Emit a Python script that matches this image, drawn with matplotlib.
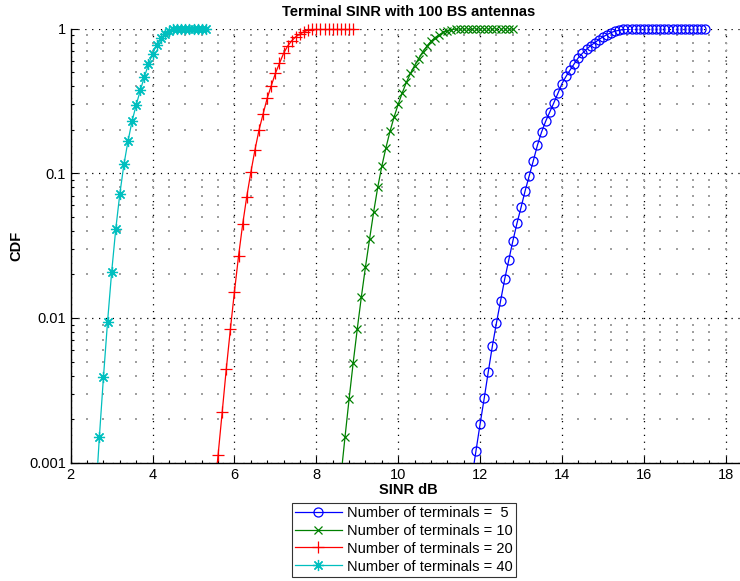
import numpy as np
import matplotlib
matplotlib.use("Agg")
import matplotlib.pyplot as plt
from matplotlib.lines import Line2D
from matplotlib.ticker import FixedLocator, NullFormatter

plt.rcParams['font.family'] = ['Liberation Sans', 'DejaVu Sans']

# --- data (SINR dB vs CDF) ---
x_k5 = [11.8, 11.9, 12.0, 12.1, 12.2, 12.3, 12.4, 12.5, 12.6, 12.7, 12.8, 12.9,
        13.0, 13.1, 13.2, 13.3, 13.4, 13.5, 13.6, 13.7, 13.8, 13.9, 14.0, 14.1,
        14.2, 14.3, 14.4, 14.5, 14.6, 14.7, 14.8, 14.9, 15.0, 15.1, 15.2, 15.3,
        15.4, 15.5, 15.6, 15.7, 15.8, 15.9, 16.0, 16.1, 16.2, 16.3, 16.4, 16.5,
        16.6, 16.7, 16.8, 16.9, 17.0, 17.1, 17.2, 17.3, 17.4, 17.5]
cdf_k5 = [0.00079, 0.00121, 0.00185, 0.00278, 0.00425, 0.0064, 0.00927, 0.0131,
          0.0185, 0.0251, 0.034, 0.045, 0.058, 0.0756, 0.096, 0.122, 0.156, 0.192,
          0.228, 0.264, 0.306, 0.356, 0.416, 0.467, 0.517, 0.571, 0.628, 0.674,
          0.719, 0.761, 0.798, 0.838, 0.875, 0.907, 0.938, 0.959, 0.973, 0.985,
          0.991, 0.995, 0.997, 0.998, 0.999, 0.9995, 1.0, 1.0, 1.0, 1.0,
          1.0, 1.0, 1.0, 1.0, 1.0, 1.0, 1.0, 1.0, 1.0, 1.0]

x_k10 = [8.6, 8.7, 8.8, 8.9, 9.0, 9.1, 9.2, 9.3, 9.4, 9.5, 9.6, 9.7, 9.8, 9.9,
         10.0, 10.1, 10.2, 10.3, 10.4, 10.5, 10.6, 10.7, 10.8, 10.9, 11.0, 11.1,
         11.2, 11.3, 11.4, 11.5, 11.6, 11.7, 11.8, 11.9, 12.0, 12.1, 12.2, 12.3,
         12.4, 12.5, 12.6, 12.7, 12.8]
cdf_k10 = [0.0008, 0.0015, 0.00275, 0.0049, 0.0084, 0.014, 0.0225, 0.035, 0.054,
           0.08, 0.112, 0.15, 0.195, 0.245, 0.30, 0.36, 0.425, 0.49, 0.555, 0.62,
           0.69, 0.755, 0.815, 0.865, 0.905, 0.94, 0.965, 0.981, 0.991, 0.996,
           0.998, 0.999, 1.0, 1.0, 1.0, 1.0, 1.0, 1.0, 1.0, 1.0, 1.0, 1.0, 1.0]

x_k20 = [5.5, 5.6, 5.7, 5.8, 5.9, 6.0, 6.1, 6.2, 6.3, 6.4, 6.5, 6.6, 6.7, 6.8,
         6.9, 7.0, 7.1, 7.2, 7.3, 7.4, 7.5, 7.6, 7.7, 7.8, 7.9, 8.0, 8.1, 8.2,
         8.3, 8.4, 8.5, 8.6, 8.7, 8.8, 8.9]
cdf_k20 = [0.00057, 0.00113, 0.00223, 0.00443, 0.00834, 0.0152, 0.0268, 0.0443,
           0.0688, 0.1014, 0.1446, 0.199, 0.257, 0.33, 0.403, 0.49, 0.575, 0.674,
           0.757, 0.824, 0.878, 0.916, 0.95, 0.976, 0.992, 0.997, 0.999, 1.0,
           1.0, 1.0, 1.0, 1.0, 1.0, 1.0, 1.0]

x_k40 = [2.6, 2.7, 2.8, 2.9, 3.0, 3.1, 3.2, 3.3, 3.4, 3.5, 3.6, 3.7, 3.8, 3.9,
         4.0, 4.1, 4.2, 4.3, 4.4, 4.5, 4.6, 4.7, 4.8, 4.9, 5.0, 5.1, 5.2, 5.3]
cdf_k40 = [0.00052, 0.0015, 0.0039, 0.0094, 0.0207, 0.041, 0.072, 0.115, 0.167,
           0.23, 0.296, 0.374, 0.464, 0.566, 0.669, 0.773, 0.855, 0.92, 0.96,
           0.985, 0.995, 0.998, 0.999, 1.0, 1.0, 1.0, 1.0, 1.0]

labels = ["Number of terminals =  5", "Number of terminals = 10",
          "Number of terminals = 20", "Number of terminals = 40"]

series = [
    (x_k5, cdf_k5, (0, 0, 1), "o", 6.5),
    (x_k10, cdf_k10, (0, 0.5, 0), "x", 5.5),
    (x_k20, cdf_k20, (1, 0, 0), "+", 8),
    (x_k40, cdf_k40, (0, 0.75, 0.75), (8, 2, 0), 8),
]

fig = plt.figure(figsize=(7.4, 5.81), dpi=100)
# axes run a little past the right edge of the figure (as in the reference)
ax = fig.add_axes([70.7 / 740, 1 - 462.7 / 581, 675.5 / 740, 434.2 / 581])

handles = []
for (xs, ys, col, mk, ms), lab in zip(series, labels):
    xs = np.array(xs)
    ys = np.array(ys)
    ax.plot(xs, ys, color=col, lw=0.9, zorder=3)
    keep = ys >= 0.001
    ax.plot(xs[keep], ys[keep], ls="none", marker=mk, ms=ms, mfc="none",
            mec=col, mew=0.9, clip_on=False, zorder=4)
    handles.append(Line2D([], [], color=col, lw=0.9, marker=mk, ms=ms,
                          mfc="none", mec=col, mew=0.9))

ax.set_yscale("log")
ax.set_xlim(2, 18.5)
ax.set_ylim(0.001, 1)

ax.xaxis.set_major_locator(FixedLocator(np.arange(2, 19, 2)))
ax.xaxis.set_minor_locator(FixedLocator(np.arange(2, 18.41, 0.4)))
ax.yaxis.set_major_locator(FixedLocator([0.001, 0.01, 0.1, 1]))
ax.set_yticklabels(["0.001", "0.01", "0.1", "1"])
ymin = [m * 10.0 ** e for e in (-3, -2, -1) for m in range(2, 10)]
ax.yaxis.set_minor_locator(FixedLocator(ymin))
ax.yaxis.set_minor_formatter(NullFormatter())

# major grid: black dotted lines
ax.grid(True, which="major", color="black", ls=(0, (1, 4.5)), lw=0.9)
# minor grid: grey dots where the minor lines cross
gx, gy = np.meshgrid(np.arange(2.4, 18.41, 0.4), ymin)
ax.scatter(gx.ravel(), gy.ravel(), s=1.3, marker="s", color="#a0a0a0",
           linewidths=0, zorder=1)
ax.set_axisbelow(True)

for s in ("top", "right"):
    ax.spines[s].set_visible(False)
for s in ("left", "bottom"):
    ax.spines[s].set_linewidth(1.0)

ax.tick_params(which="both", direction="in", labelsize=10.5, width=0.8)
ax.tick_params(which="major", length=5)
ax.tick_params(which="minor", length=2.5)

ax.set_title("Terminal SINR with 100 BS antennas", fontsize=10.5,
             fontweight="bold", pad=9)
ax.set_xlabel("SINR dB", fontsize=10.5, fontweight="bold", labelpad=1)
ax.set_ylabel("CDF", fontsize=10.5, fontweight="bold", labelpad=4)

leg = fig.legend(handles, labels, loc="upper center",
                 bbox_to_anchor=(404 / 740, 1 - 502.5 / 581),
                 fontsize=10.5, frameon=True, fancybox=False, edgecolor="black",
                 handlelength=3.2, handletextpad=0.4, labelspacing=0.27,
                 borderpad=0.22, borderaxespad=0)
leg.get_frame().set_linewidth(0.8)

fig.savefig("out.png", dpi=100)
